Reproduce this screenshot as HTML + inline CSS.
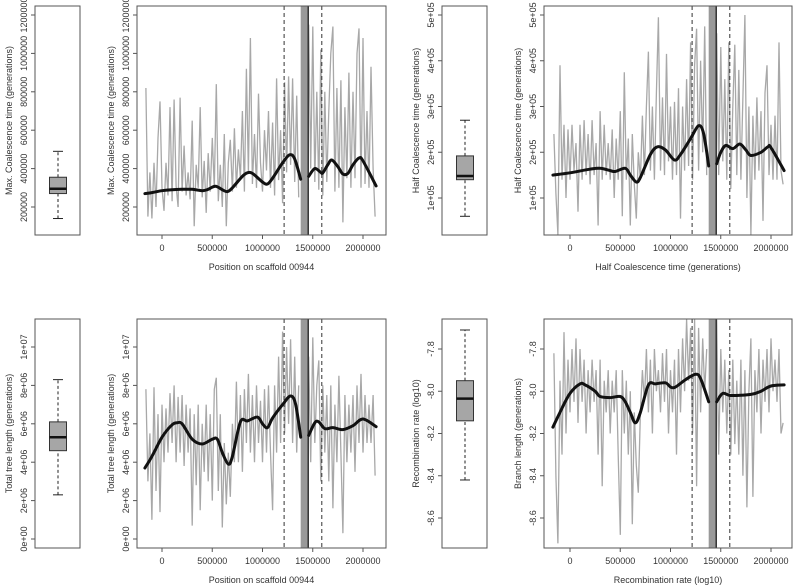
<!DOCTYPE html>
<html><head><meta charset="utf-8"><style>
html,body{margin:0;padding:0;background:#fff;}
svg{display:block;font-family:"Liberation Sans",sans-serif;}
</style></head><body>
<svg id="fig" width="793" height="585" viewBox="0 0 793 585" xmlns="http://www.w3.org/2000/svg"></svg>
<script>
// ---------- data ----------
const xStart = -160000, xStep = 20000;
const xTicks = [0, 500000, 1000000, 1500000, 2000000];
const xTickLabels = ["0","500000","1000000","1500000","2000000"];
const bandRange = [1380000, 1450000];
const bandEdge = 1455000;
const dashedLines = [1215000, 1590000];

const grayMaxCoal = [820,150,380,140,430,200,560,750,300,180,430,260,720,230,760,310,200,770,280,520,260,380,240,650,100,420,300,720,250,440,170,480,280,560,300,840,230,420,200,580,100,430,550,280,610,300,500,350,700,280,920,380,1080,320,580,300,790,430,280,600,390,700,300,640,260,870,340,600,220,850,380,880,420,870,330,780,250,null,null,null,null,1150,400,1140,330,800,290,1020,260,800,330,700,1000,1140,280,820,300,860,120,720,350,900,300,800,350,1000,1130,300,1080,320,700,300,930,400,150];
const grayHalfCoal = [2.4,1.1,0.2,3.9,1.4,2.6,1.0,2.5,1.4,2.6,1.6,2.2,0.7,2.6,1.4,2.7,1.5,2.4,1.3,2.7,1.5,2.2,0.4,2.9,1.4,2.6,1.5,2.2,1.4,2.5,1.0,2.3,1.4,2.9,0.6,3.75,1.4,2.3,0.4,2.4,1.3,0.55,2.0,1.4,2.8,1.5,3.0,4.2,1.6,3.0,1.4,3.3,4.95,1.6,3.2,1.5,4.15,1.8,3.0,1.4,3.1,1.5,3.4,0.55,3.0,1.6,3.6,1.7,4.4,1.4,3.9,4.7,1.6,4.0,2.0,4.75,1.5,null,null,null,null,4.6,1.5,4.3,1.8,3.6,1.4,4.4,1.2,3.0,4.35,1.5,3.8,1.4,3.2,5.0,1.0,3.0,0.2,2.8,1.4,3.2,1.6,2.9,0.5,3.3,3.9,1.5,2.6,1.4,2.8,1.4,4.4,1.6,1.3];
const grayTreeLen = [7.8,3.0,5.5,1.0,7.9,2.5,6.5,1.4,7.0,4.0,6.8,4.5,7.6,5.0,8.0,4.0,7.4,4.5,7.5,3.8,7.0,4.5,6.8,0.7,6.5,2.8,7.0,1.5,6.0,3.5,7.0,3.0,6.5,2.0,7.8,8.4,2.5,6.5,0.6,5.0,1.8,4.5,2.2,6.0,4.0,8.2,4.0,7.5,3.5,7.8,5.0,8.6,4.5,7.5,4.0,8.0,5.0,7.2,4.0,7.8,4.5,8.0,4.5,1.5,8.0,4.5,9.5,5.0,10.8,5.5,10.0,6.0,10.4,5.0,9.5,4.5,8.0,null,null,null,null,9.5,4.0,10.5,5.0,8.0,9.3,3.0,8.0,4.5,7.5,3.0,8.0,1.6,7.0,4.0,8.5,4.5,0.3,7.5,4.0,7.0,4.5,7.5,3.5,8.0,5.0,8.6,4.5,7.5,5.0,7.0,5.0,7.5,3.3];
const grayRecomb = [-7.82,-8.4,-8.72,-7.95,-8.3,-7.72,-8.2,-7.85,-8.1,-7.8,-8.05,-7.75,-8.15,-7.8,-8.05,-7.85,-8.2,-7.9,-8.1,-7.85,-8.05,-7.9,-8.3,-7.85,-8.45,-7.95,-8.1,-7.9,-8.2,-7.95,-8.1,-7.9,-8.3,-8.68,-7.9,-8.2,-7.95,-8.3,-8.0,-8.63,-8.1,-8.35,-8.48,-8.1,-7.9,-8.05,-7.8,-8.1,-7.85,-8.2,-7.8,-8.0,-7.9,-8.1,-7.82,-8.05,-7.8,-8.2,-7.9,-8.1,-7.85,-8.3,-7.8,-8.1,-7.75,-8.0,-7.66,-7.95,-7.7,-8.2,-7.66,-8.45,-7.7,-8.1,-7.75,-8.0,-7.8,null,null,null,null,-7.66,-8.3,-7.8,-8.1,-7.85,-8.2,-7.9,-8.3,-7.85,-8.25,-7.95,-8.3,-7.85,-8.4,-7.9,-8.55,-8.0,-7.75,-8.5,-7.9,-8.1,-7.8,-8.2,-7.85,-8.05,-7.8,-8.1,-7.75,-8.0,-7.85,-8.05,-7.8,-8.2,-8.15];

const smoothX1 = [-170,-100,0,100,200,300,400,450,530,600,650,700,800,850,900,1000,1050,1100,1200,1270,1320,1380];
const smoothX2 = [1460,1520,1580,1600,1650,1690,1750,1800,1850,1900,1960,2000,2130];
const smoothMaxA = [270,275,285,290,292,292,285,290,308,290,280,300,360,378,375,330,320,350,430,472,450,345];
const smoothMaxB = [360,400,380,378,420,445,410,372,375,420,455,440,310];
const smoothHX1 = [-170,0,200,300,400,450,550,600,660,700,800,870,950,1040,1100,1200,1280,1330,1380];
const smoothHalfA = [1.50,1.55,1.63,1.65,1.60,1.58,1.65,1.50,1.35,1.45,1.95,2.12,2.05,1.83,1.95,2.30,2.58,2.40,1.70];
const smoothHX2 = [1460,1500,1550,1620,1690,1750,1800,1900,1970,2000,2130];
const smoothHalfB = [1.75,2.0,2.15,2.08,2.18,2.05,1.93,2.0,2.12,2.1,1.6];
const smoothTX1 = [-170,-100,0,100,150,200,300,400,500,550,600,660,700,780,850,950,1000,1050,1100,1200,1280,1330,1380];
const smoothTreeA = [3.7,4.3,5.3,5.95,6.05,6.0,5.2,4.95,5.2,5.2,4.5,3.9,4.3,6.1,6.15,6.35,6.0,5.8,6.3,7.0,7.45,7.0,5.3];
const smoothTX2 = [1460,1520,1560,1620,1700,1800,1900,2000,2130];
const smoothTreeB = [5.4,6.05,6.1,5.75,5.8,5.7,5.9,6.25,5.85];
const smoothRX1 = [-170,-100,0,100,150,250,300,400,500,550,600,650,700,780,850,950,1000,1050,1150,1250,1300,1380];
const smoothRecA = [-8.17,-8.1,-8.01,-7.965,-7.97,-8.0,-8.025,-8.03,-8.025,-8.05,-8.1,-8.15,-8.1,-7.97,-7.965,-7.96,-7.98,-7.98,-7.945,-7.92,-7.94,-8.05];
const smoothRX2 = [1460,1520,1600,1800,1900,2000,2130];
const smoothRecB = [-8.05,-8.01,-8.02,-8.015,-8.0,-7.975,-7.97];

const boxMax = [140000,270000,295000,355000,490000];
const boxHalf = [0.6e5,1.4e5,1.48e5,1.92e5,2.7e5];
const boxTree = [2.3e6,4.6e6,5.3e6,6.1e6,8.3e6];
const boxRec = [-8.42,-8.14,-8.035,-7.95,-7.71];

const ticksMax = [200000,400000,600000,800000,1000000,1200000];
const labelsMax = ["200000","400000","600000","800000","1000000","1200000"];
const ticksHalf = [1e5,2e5,3e5,4e5,5e5];
const labelsHalf = ["1e+05","2e+05","3e+05","4e+05","5e+05"];
const ticksTree = [0,2e6,4e6,6e6,8e6,1e7];
const labelsTree = ["0e+00","2e+06","4e+06","6e+06","8e+06","1e+07"];
const ticksRec = [-7.8,-8.0,-8.2,-8.4,-8.6];
const labelsRec = ["-7.8","-8.0","-8.2","-8.4","-8.6"];

// ---------- drawing ----------
const svg = document.getElementById('fig');
const NS = 'http://www.w3.org/2000/svg';
function mk(tag, attrs, parent){
  const e = document.createElementNS(NS, tag);
  for (const k in attrs) e.setAttribute(k, attrs[k]);
  (parent||svg).appendChild(e);
  return e;
}
function txt(s, x, y, rot, parent, size){
  const t = mk('text', {x:x, y:y, 'font-size': size||9, fill:'#333', 'text-anchor':'middle'}, parent);
  if (rot) t.setAttribute('transform', 'rotate(-90 '+x+' '+y+')');
  t.textContent = s;
  return t;
}
function smoothPath(pts){
  let d = 'M' + pts[0][0].toFixed(1) + ',' + pts[0][1].toFixed(1);
  for (let i = 0; i < pts.length - 1; i++){
    const p0 = pts[Math.max(0,i-1)], p1 = pts[i], p2 = pts[i+1], p3 = pts[Math.min(pts.length-1,i+2)];
    const c1x = p1[0] + (p2[0]-p0[0])/6, c1y = p1[1] + (p2[1]-p0[1])/6;
    const c2x = p2[0] - (p3[0]-p1[0])/6, c2y = p2[1] - (p3[1]-p1[1])/6;
    d += 'C' + c1x.toFixed(1)+','+c1y.toFixed(1)+' '+c2x.toFixed(1)+','+c2y.toFixed(1)+' '+p2[0].toFixed(1)+','+p2[1].toFixed(1);
  }
  return d;
}

const panels = [
  {id:'max', box:[35,80], main:[137,386], y0:6, y1:235, ymin:54167, ymax:1246875, x0v:162,
   gray:grayMaxCoal, gscale:1000, sA:[smoothX1,smoothMaxA], sB:[smoothX2,smoothMaxB], sscale:1000,
   bx:boxMax, ticks:ticksMax, labels:labelsMax, yt:'Max. Coalescence time (generations)', xt:'Position on scaffold 00944'},
  {id:'half', box:[442,487], main:[544,792], y0:6, y1:235, ymin:19126, ymax:519672, x0v:570,
   gray:grayHalfCoal, gscale:1e5, sA:[smoothHX1,smoothHalfA], sB:[smoothHX2,smoothHalfB], sscale:1e5,
   bx:boxHalf, ticks:ticksHalf, labels:labelsHalf, yt:'Half Coalescence time (generations)', xt:'Half Coalescence time (generations)'},
  {id:'tree', box:[35,80], main:[137,386], y0:319, y1:548, ymin:-468750, ymax:11458333, x0v:162,
   gray:grayTreeLen, gscale:1e6, sA:[smoothTX1,smoothTreeA], sB:[smoothTX2,smoothTreeB], sscale:1e6,
   bx:boxTree, ticks:ticksTree, labels:labelsTree, yt:'Total tree length (generations)', xt:'Position on scaffold 00944'},
  {id:'recomb', box:[442,487], main:[544,792], y0:319, y1:548, ymin:-8.742, ymax:-7.658, x0v:570,
   gray:grayRecomb, gscale:1, sA:[smoothRX1,smoothRecA], sB:[smoothRX2,smoothRecB], sscale:1,
   bx:boxRec, ticks:ticksRec, labels:labelsRec, yt:'Recombination rate (log10)', yt2:'Branch length (generations)', xt:'Recombination rate (log10)'}
];

panels.forEach(p => {
  const g = mk('g', {});
  
  
  const ys = v => p.y1 - (v - p.ymin) / (p.ymax - p.ymin) * (p.y1 - p.y0);
  const xs = v => p.x0v + v * 100.5e-6;

  // ---- boxplot panel ----
  const bg = mk('g', {}, g);
  
  
  const cx = (p.box[0] + p.box[1]) / 2 + 0.5;
  const hw = 8.5;
  const b = p.bx;
  mk('line', {x1:cx, x2:cx, y1:ys(b[0]), y2:ys(b[1]), stroke:'#222', 'stroke-dasharray':'3,2.5', 'stroke-width':1}, bg);
  mk('line', {x1:cx, x2:cx, y1:ys(b[3]), y2:ys(b[4]), stroke:'#222', 'stroke-dasharray':'3,2.5', 'stroke-width':1}, bg);
  mk('line', {x1:cx-5, x2:cx+5, y1:ys(b[0]), y2:ys(b[0]), stroke:'#222'}, bg);
  mk('line', {x1:cx-5, x2:cx+5, y1:ys(b[4]), y2:ys(b[4]), stroke:'#222'}, bg);
  mk('rect', {x:cx-hw, y:ys(b[3]), width:hw*2, height:ys(b[1])-ys(b[3]), fill:'#a6a6a6', stroke:'#333', 'stroke-width':1}, bg);
  mk('line', {x1:cx-hw, x2:cx+hw, y1:ys(b[2]), y2:ys(b[2]), stroke:'#111', 'stroke-width':2.5}, bg);
  const bf = mk('rect', {x:p.box[0], y:p.y0, width:p.box[1]-p.box[0], height:p.y1-p.y0, fill:'none', stroke:'#555', 'stroke-width':1}, g);
  
  

  // ---- main panel ----
  const mg = mk('g', {}, g);
  
  
  const clipId = 'clip-' + p.id;
  const cp = mk('clipPath', {id:clipId}, mg);
  mk('rect', {x:p.main[0], y:p.y0, width:p.main[1]-p.main[0], height:p.y1-p.y0}, cp);
  const inner = mk('g', {'clip-path':'url(#'+clipId+')'}, mg);

  let d = '', pen = false;
  p.gray.forEach((v, i) => {
    if (v === null) { pen = false; return; }
    const X = xs(xStart + i * xStep), Y = ys(v * p.gscale);
    d += (pen ? 'L' : 'M') + X.toFixed(1) + ',' + Y.toFixed(1);
    pen = true;
  });
  const gp = mk('path', {d:d, fill:'none', stroke:'#a8a8a8', 'stroke-width':1.3, 'stroke-linejoin':'bevel'}, inner);
  
  

  const band = mk('rect', {x:xs(bandRange[0]), y:p.y0, width:xs(bandRange[1])-xs(bandRange[0]), height:p.y1-p.y0, fill:'#999'}, inner);
  
  
  mk('line', {x1:xs(bandEdge), x2:xs(bandEdge), y1:p.y0, y2:p.y1, stroke:'#333', 'stroke-width':1.5}, inner);
  dashedLines.forEach((dv, k) => {
    const l = mk('line', {x1:xs(dv), x2:xs(dv), y1:p.y0, y2:p.y1, stroke:'#333', 'stroke-dasharray':'4,3', 'stroke-width':1}, inner);
    
    
  });

  [p.sA, p.sB].forEach((s, k) => {
    const pts = s[0].map((xv, i) => [xs(xv * 1000), ys(s[1][i] * p.sscale)]);
    const sp = mk('path', {d:smoothPath(pts), fill:'none', stroke:'#111', 'stroke-width':3, 'stroke-linejoin':'round', 'stroke-linecap':'round'}, inner);
    
    
  });

  const mf = mk('rect', {x:p.main[0], y:p.y0, width:p.main[1]-p.main[0], height:p.y1-p.y0, fill:'none', stroke:'#555', 'stroke-width':1}, g);
  
  

  [[p.box[0], 'box'], [p.main[0], 'main']].forEach(([ax, nm]) => {
    const ag = mk('g', {}, g);
    
    
    p.ticks.forEach((tv, i) => {
      const Y = ys(tv);
      mk('line', {x1:ax-4, x2:ax, y1:Y, y2:Y, stroke:'#555'}, ag);
      txt(p.labels[i], ax - 8, Y, true, ag);
    });
    const ttl = (nm === 'main' && p.yt2) ? p.yt2 : p.yt;
    const t = txt(ttl, ax - 23, (p.y0 + p.y1) / 2, true, g);
    
    
  });

  const xg = mk('g', {}, g);
  
  
  xTicks.forEach((tv, i) => {
    const X = xs(tv);
    mk('line', {x1:X, x2:X, y1:p.y1, y2:p.y1+4, stroke:'#555'}, xg);
    txt(xTickLabels[i], X, p.y1 + 16, false, xg);
  });
  const xt = txt(p.xt, (p.main[0] + p.main[1]) / 2, p.y1 + 35, false, g);
  
  
});
</script>
</body></html>
